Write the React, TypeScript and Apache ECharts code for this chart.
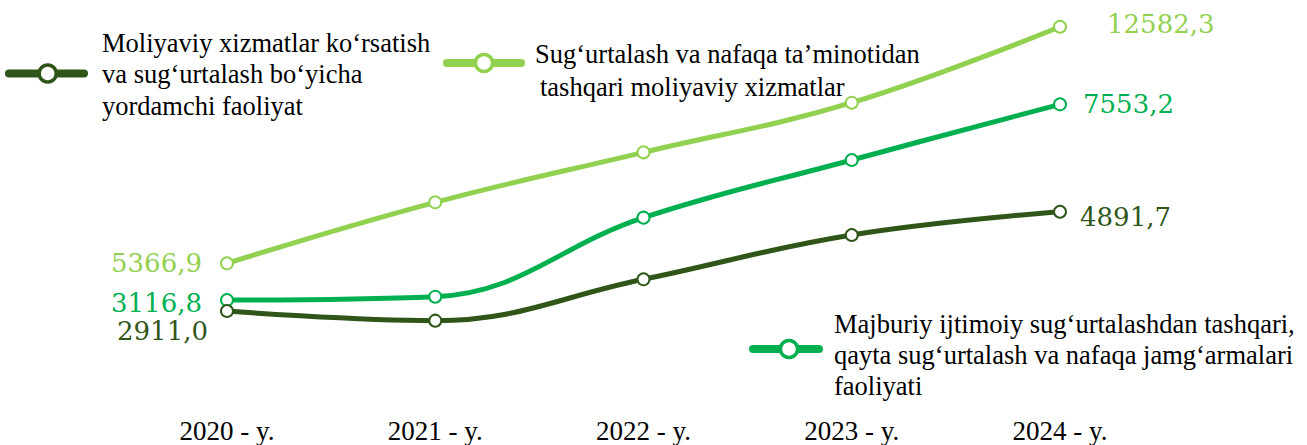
import React, { useEffect, useRef } from "react";
import * as echarts from "echarts";

const categories = ["2020 - y.", "2021 - y.", "2022 - y.", "2023 - y.", "2024 - y."];
const auxiliaryActivity = [2911.0, 2717.5, 3543.4, 4427.2, 4891.7];
const otherFinancial = [5366.9, 7227.4, 8752.0, 10265.1, 12582.3];
const pensionFunds = [3116.8, 3191.6, 4983.0, 6290.6, 7553.2];

const legendDarkLines = ["Moliyaviy xizmatlar ko‘rsatish", "va sug‘urtalash bo‘yicha", "yordamchi faoliyat"];
const legendLightLines = ["Sug‘urtalash va nafaqa ta’minotidan", "tashqari moliyaviy xizmatlar"];
const legendMediumLines = ["Majburiy ijtimoiy sug‘urtalashdan tashqari,", "qayta sug‘urtalash va nafaqa jamg‘armalari", "faoliyati"];

const C_LIGHT = "#92D050";
const C_MED = "#00B050";
const C_DARK = "#2F5618";

const fmt = (v: number) => v.toFixed(1).replace(".", ",");

function withEndLabels(values: number[], color: string, first: any, last: any) {
  const base = {
    show: true,
    color,
    fontFamily: "DejaVu Serif",
    fontSize: 26,
    formatter: (p: any) => fmt(p.value),
  };
  return values.map((v, i) => {
    if (i === 0) return { value: v, label: { ...base, ...first } };
    if (i === values.length - 1) return { value: v, label: { ...base, ...last } };
    return v;
  });
}

function legendMarker(x1: number, x2: number, y: number, cx: number, color: string) {
  return [
    { type: "line", z: 10, shape: { x1, y1: y, x2, y2: y }, style: { stroke: color, lineWidth: 8, lineCap: "round" } },
    { type: "circle", z: 11, shape: { cx, cy: y, r: 8.5 }, style: { fill: "#fff", stroke: color, lineWidth: 3.5 } },
  ];
}

function legendTitle(text: string, left: number, top: number, lineHeight: number) {
  return {
    text,
    left,
    top,
    padding: 0,
    textStyle: {
      fontFamily: "Liberation Serif",
      fontSize: 26.5,
      fontWeight: "normal",
      color: "#000",
      lineHeight,
    },
  };
}

export default function App() {
  const ref = useRef<HTMLDivElement>(null);
  useEffect(() => {
    if (!ref.current) return;
    const chart = echarts.init(ref.current, undefined, { renderer: "svg" });
    const lineSeries = (name: string, data: any[], color: string, yIdx: number) => ({
      name,
      type: "line",
      yAxisIndex: yIdx,
      data,
      smooth: 0.4,
      symbol: "emptyCircle",
      symbolSize: 12,
      lineStyle: { color, width: 5 },
      itemStyle: { color, borderWidth: 2 },
    });
    chart.setOption({
      animation: false,
      backgroundColor: "#fff",
      title: [
        legendTitle(legendDarkLines.join("\n"), 102, 27, 31.5),
        legendTitle(legendLightLines[0], 535, 38, 32.5),
        legendTitle(legendLightLines[1], 540, 70.5, 32.5),
        legendTitle(legendMediumLines.join("\n"), 834, 308.5, 31),
      ],
      grid: { left: 227, right: 247, top: 20, bottom: 45 },
      xAxis: {
        type: "category",
        data: categories,
        boundaryGap: false,
        axisLine: { show: false },
        axisTick: { show: false },
        splitLine: { show: false },
        axisLabel: { fontFamily: "Liberation Serif", fontSize: 27, color: "#000", margin: 17 },
      },
      yAxis: [
        { type: "value", show: false, min: 1197.5, max: 12787.6, splitLine: { show: false } },
        { type: "value", show: false, min: 849.8, max: 9464.4, splitLine: { show: false } },
        { type: "value", show: false, min: 1135.4, max: 8716.5, splitLine: { show: false } },
      ],
      series: [
        lineSeries(
          "Sug‘urtalash va nafaqa ta’minotidan tashqari moliyaviy xizmatlar",
          withEndLabels(otherFinancial, C_LIGHT, { position: "left", distance: 18 }, { position: "right", distance: 40, offset: [0, -3] }),
          C_LIGHT,
          0
        ),
        lineSeries(
          "Majburiy ijtimoiy sug‘urtalashdan tashqari, qayta sug‘urtalash va nafaqa jamg‘armalari faoliyati",
          withEndLabels(pensionFunds, C_MED, { position: "left", distance: 18, offset: [0, 3] }, { position: "right", distance: 16 }),
          C_MED,
          1
        ),
        lineSeries(
          "Moliyaviy xizmatlar ko‘rsatish va sug‘urtalash bo‘yicha yordamchi faoliyat",
          withEndLabels(auxiliaryActivity, C_DARK, { position: "left", distance: 12, offset: [0, 20] }, { position: "right", distance: 13, offset: [0, 5] }),
          C_DARK,
          2
        ),
      ],
      graphic: [
        ...legendMarker(9, 84, 73.5, 47.7, C_DARK),
        ...legendMarker(447, 521, 63, 484, C_LIGHT),
        ...legendMarker(753, 819, 349, 789, C_MED),
      ],
    });
    return () => chart.dispose();
  }, []);
  return <div ref={ref} style={{ position: "fixed", left: 0, top: 0, width: 1307, height: 445 }} />;
}
